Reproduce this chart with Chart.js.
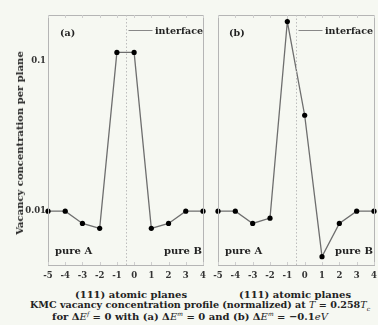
<!DOCTYPE html>
<html><head><meta charset="utf-8">
<script src="https://cdn.jsdelivr.net/npm/chart.js@4/dist/chart.umd.min.js"></script>
<style>
html,body{margin:0;padding:0;background:#f6f8f2;}
#wrap{position:relative;width:378px;height:325px;overflow:hidden;background:#f6f8f2;font-family:"DejaVu Serif",serif;font-weight:bold;color:#222;}
canvas{position:absolute;top:0;}
.t{position:absolute;white-space:nowrap;font-size:9.5px;line-height:1;}
.cap{position:absolute;left:0;width:378px;text-align:center;font-size:9.6px;white-space:nowrap;line-height:1;}
.m{font-family:"DejaVu Serif",serif;font-style:italic;font-weight:normal;}
</style></head><body>
<div id="wrap">
<div style="position:absolute;left:0;top:0;width:210px;height:285px;"><canvas id="c1"></canvas></div>
<div style="position:absolute;left:210px;top:0;width:168px;height:285px;"><canvas id="c2"></canvas></div>
<div class="t" style="left:20px;top:143px;transform:translate(-50%,-50%) rotate(-90deg);font-size:10px;">Vacancy concentration per plane</div>
<div class="t" style="left:60px;top:28px;">(a)</div>
<div class="t" style="left:229px;top:28px;">(b)</div>
<div class="t" style="left:155px;top:26px;">interface</div>
<div class="t" style="left:325px;top:26px;">interface</div>
<div class="t" style="left:55px;top:246px;font-size:10px;">pure A</div>
<div class="t" style="left:164px;top:246px;font-size:10px;">pure B</div>
<div class="t" style="left:225px;top:246px;font-size:10px;">pure A</div>
<div class="t" style="left:335px;top:246px;font-size:10px;">pure B</div>
<div class="t" style="left:131px;top:290px;transform:translateX(-50%);font-size:10px;">(111) atomic planes</div>
<div class="t" style="left:295px;top:290px;transform:translateX(-50%);font-size:10px;">(111) atomic planes</div>
<div class="cap" style="top:300px;left:11px;">KMC vacancy concentration profile (normalized) at <span class="m">T</span> = 0.258<span class="m">T<sub style="font-size:6px">c</sub></span></div>
<div class="cap" style="top:311px;left:1px;font-size:10px;">for Δ<span class="m">E<sup style="font-size:6px">f</sup></span> = 0 with (a) Δ<span class="m">E<sup style="font-size:6px">m</sup></span> = 0 and (b) Δ<span class="m">E<sup style="font-size:6px">m</sup></span> = −0.1<span class="m">eV</span></div>
</div>
<script>
const planes = [-5,-4,-3,-2,-1,0,1,2,3,4];
const seriesA = [0.01,0.01,0.0083,0.0077,0.113,0.113,0.0077,0.0083,0.01,0.01];
const seriesB = [0.01,0.01,0.0083,0.0090,0.181,0.0433,0.0050,0.0083,0.01,0.01];
const yTicks = [0.01,0.1];
const yTickLabels = ['0.01','0.1'];
const interfacePos = -0.5;

const tickFont = {family:'"DejaVu Serif",serif',size:8.5,weight:'bold'};

const framePlugin = {
  id:'frame',
  afterDraw(chart){
    const a = chart.chartArea, ctx = chart.ctx;
    const xs = chart.scales.x;
    ctx.save();
    ctx.strokeStyle = '#b5b5b5'; ctx.lineWidth = 1;
    ctx.strokeRect(Math.round(a.left)+0.5, Math.round(a.top)+0.5, Math.round(a.right-a.left), Math.round(a.bottom-a.top));
    ctx.strokeStyle = '#cfcfcf';
    planes.forEach(p=>{
      const x = Math.round(xs.getPixelForValue(p))+0.5;
      ctx.beginPath(); ctx.moveTo(x,a.top); ctx.lineTo(x,a.top+3); ctx.stroke();
      ctx.beginPath(); ctx.moveTo(x,a.bottom); ctx.lineTo(x,a.bottom-3); ctx.stroke();
    });
    const ix = Math.round(xs.getPixelForValue(interfacePos))+0.5;
    ctx.strokeStyle = '#bdbdbd'; ctx.setLineDash([1.5,2]);
    ctx.beginPath(); ctx.moveTo(ix,a.top); ctx.lineTo(ix,a.bottom); ctx.stroke();
    ctx.setLineDash([]);
    ctx.strokeStyle = '#888';
    ctx.beginPath(); ctx.moveTo(ix+2,30.5); ctx.lineTo(ix+26,30.5); ctx.stroke();
    ctx.restore();
  }
};

function makeChart(id, values, showY, padL, padR){
  return new Chart(document.getElementById(id), {
    type:'line',
    data:{datasets:[{
      data: planes.map((p,i)=>({x:p,y:values[i]})),
      borderColor:'#6e6e6e', borderWidth:1.3,
      pointBackgroundColor:'#000', pointBorderColor:'#000', pointRadius:2.6, pointBorderWidth:0,
      tension:0, clip:false
    }]},
    options:{
      responsive:true, maintainAspectRatio:false, animation:false,
      layout:{padding:{left:padL,right:padR,top:15,bottom:0}},
      plugins:{legend:{display:false},tooltip:{enabled:false}},
      scales:{
        x:{type:'linear',min:-5,max:4,
          afterFit(s){s.height=20;s.paddingLeft=0;s.paddingRight=0;},
          afterBuildTicks(s){s.ticks = planes.map(v=>({value:v}));},
          grid:{display:false,drawTicks:false},border:{display:false},
          ticks:{font:tickFont,color:'#333',padding:6,maxRotation:0,autoSkip:false,callback:v=>String(v)}},
        y:{type:'logarithmic',min:0.0044,max:0.2,display:showY,
          afterFit(s){ if(showY) s.width=48; else s.width=0; },
          afterBuildTicks(s){s.ticks = yTicks.map(v=>({value:v}));},
          grid:{display:false,drawTicks:false},border:{display:false},
          ticks:{font:tickFont,color:'#333',padding:2,callback:(v)=>yTickLabels[yTicks.indexOf(v)] ?? ''}}
      }
    },
    plugins:[framePlugin]
  });
}
makeChart('c1', seriesA, true, 0, 7);
makeChart('c2', seriesB, false, 8, 4);
</script>
</body></html>
